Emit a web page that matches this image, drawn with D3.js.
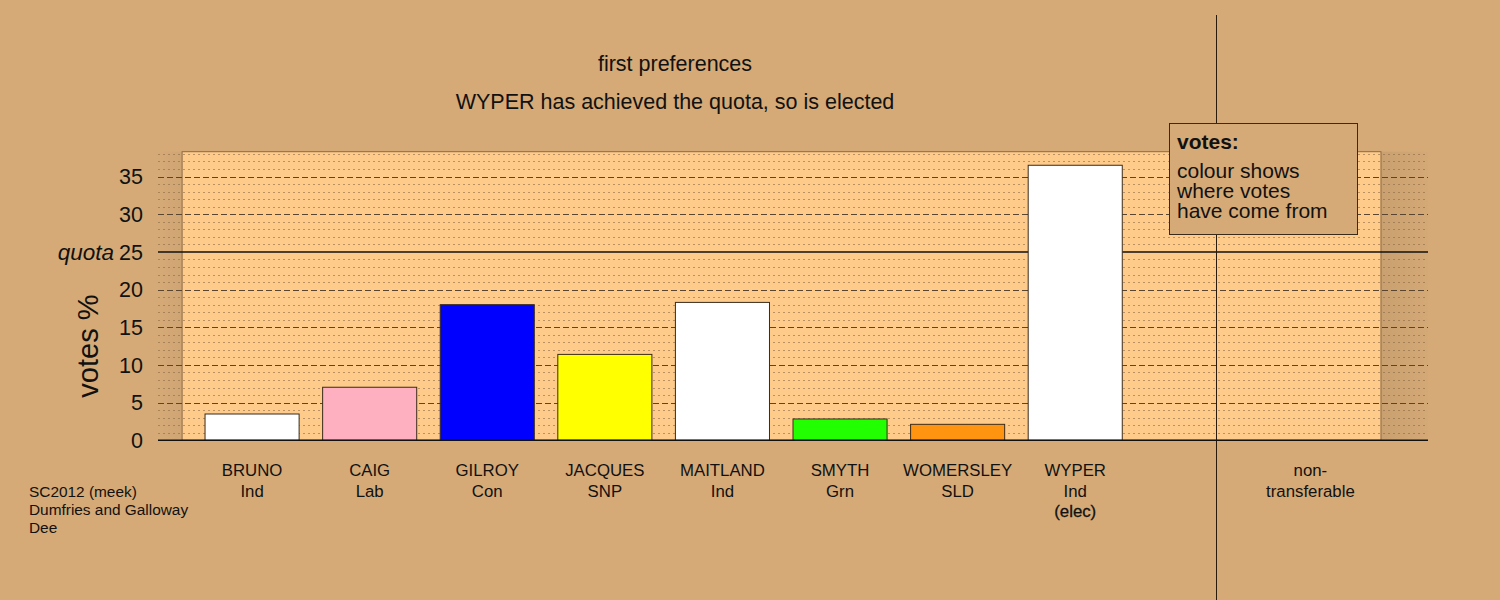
<!DOCTYPE html>
<html><head><meta charset="utf-8">
<script src="https://cdn.jsdelivr.net/npm/d3@7"></script>
<style>
html,body{margin:0;padding:0;background:#D5AA77;}
svg{display:block;font-family:"Liberation Sans",Arial,sans-serif;}
</style></head>
<body>
<script>
// ---- data ----
const candidates = ["BRUNO","CAIG","GILROY","JACQUES","MAITLAND","SMYTH","WOMERSLEY","WYPER"];
const parties = ["Ind","Lab","Con","SNP","Ind","Grn","SLD","Ind"];
const votes = [3.49, 7.04, 18.0, 11.4, 18.3, 2.83, 2.12, 36.5];
const barColors = ["#FFFFFF","#FFB0C0","#0000FF","#FFFF00","#FFFFFF","#22FF00","#FF9410","#FFFFFF"];
const status = ["","","","","","","","(elec)"];
const nonTransferable = 0;
const quota = 25;
const yTicks = [0,5,10,15,20,25,30,35];
const titleLines = ["first preferences","WYPER has achieved the quota, so is elected"];
const footLines = ["SC2012 (meek)","Dumfries and Galloway","Dee"];
const legendTitle = "votes:";
const legendLines = ["colour shows","where votes","have come from"];

const W = 1500, H = 600;
const svg = d3.select("body").append("svg").attr("width", W).attr("height", H);
const BG = "#D5AA77", PANEL = "#FFCB8A";

// scales (category index units)
const x = d3.scaleLinear().domain([-0.8, 10.0]).range([158, 1428]);
const y = d3.scaleLinear().domain([0, 38.3]).range([440.3, 151.7]);
const ntIndex = 9, dividerPos = 8.2, panelL = -0.595, panelR = 9.6, barW = 0.8;

svg.append("rect").attr("width", W).attr("height", H).attr("fill", BG);

// subtle shadow right of panel
const defs = svg.append("defs");
const g1 = defs.append("linearGradient").attr("id","shR");
g1.append("stop").attr("offset","0").attr("stop-color","#8a6a48").attr("stop-opacity",0.16);
g1.append("stop").attr("offset","1").attr("stop-color","#8a6a48").attr("stop-opacity",0.02);
svg.append("rect").attr("x", x(panelR)).attr("y", y(38.3)).attr("width", x(10.0)-x(panelR))
  .attr("height", y(0)-y(38.3)).attr("fill","url(#shR)");
const g2 = defs.append("linearGradient").attr("id","shL").attr("x1","1").attr("x2","0");
g2.append("stop").attr("offset","0").attr("stop-color","#8a6a48").attr("stop-opacity",0.08);
g2.append("stop").attr("offset","1").attr("stop-color","#8a6a48").attr("stop-opacity",0);
svg.append("rect").attr("x", x(-0.8)).attr("y", y(38.3)).attr("width", x(panelL)-x(-0.8))
  .attr("height", y(0)-y(38.3)).attr("fill","url(#shL)");

// panel
svg.append("rect").attr("x", x(panelL)).attr("y", y(38.3))
  .attr("width", x(panelR)-x(panelL)).attr("height", y(0)-y(38.3))
  .attr("fill", PANEL).attr("stroke","#8a6a48").attr("stroke-width",1);

// grid lines
const minor = d3.range(1, 39).filter(v => v % 5 !== 0);
svg.append("g").selectAll("line").data(minor).join("line")
  .attr("x1", x(-0.8)).attr("x2", x(10.0))
  .attr("y1", d => Math.round(y(d))+0.5).attr("y2", d => Math.round(y(d))+0.5)
  .attr("stroke","#8a6a48").attr("stroke-opacity",0.6).attr("stroke-width",1)
  .attr("stroke-dasharray","2,3");
const major = yTicks.filter(v => v !== 0 && v !== quota);
svg.append("g").selectAll("line").data(major).join("line")
  .attr("x1", x(-0.8)).attr("x2", x(10.0))
  .attr("y1", d => Math.round(y(d))+0.5).attr("y2", d => Math.round(y(d))+0.5)
  .attr("stroke","#5a4530").attr("stroke-width",1)
  .attr("stroke-dasharray","6,3");

// quota line (behind bars)
svg.append("line").attr("x1", x(-0.8)).attr("x2", x(10.0))
  .attr("y1", y(quota)).attr("y2", y(quota)).attr("stroke","#111").attr("stroke-width",1.5);

// divider vertical line
svg.append("line").attr("x1", Math.round(x(dividerPos))+0.5).attr("x2", Math.round(x(dividerPos))+0.5)
  .attr("y1", 15).attr("y2", H).attr("stroke","#2a1a0a").attr("stroke-width",1);

// bars
const data = candidates.map((c,i) => ({i, c, v: votes[i], col: barColors[i]}));
svg.append("g").selectAll("rect").data(data).join("rect")
  .attr("x", d => x(d.i - barW/2)).attr("width", x(barW) - x(0))
  .attr("y", d => y(d.v)).attr("height", d => y(0) - y(d.v))
  .attr("fill", d => d.col).attr("stroke","#3a2a1a").attr("stroke-width",1);

// zero line
svg.append("line").attr("x1", x(-0.8)).attr("x2", x(10.0))
  .attr("y1", y(0)).attr("y2", y(0)).attr("stroke","#111").attr("stroke-width",1.5);

// y tick labels
svg.append("g").selectAll("text").data(yTicks).join("text")
  .attr("x", 143).attr("y", d => y(d)).attr("dy","0.36em")
  .attr("text-anchor","end").attr("font-size",21.5).attr("fill","#111").text(d => d);
svg.append("text").attr("x", 114).attr("y", y(quota)).attr("dy","0.36em")
  .attr("text-anchor","end").attr("font-size",22.5).attr("font-style","italic").attr("fill","#111").text("quota");
svg.append("text").attr("transform", `translate(98,${y(12.5)}) rotate(-90)`)
  .attr("text-anchor","middle").attr("font-size",29).attr("fill","#111").text("votes %");

// titles
svg.append("g").selectAll("text").data(titleLines).join("text")
  .attr("x", 675).attr("y", (d,i) => 71 + i*37.5).attr("text-anchor","middle")
  .attr("font-size",21.5).attr("fill","#111").text(d => d);

// category labels
const labG = svg.append("g").attr("font-size",16.8).attr("fill","#111").attr("text-anchor","middle");
data.forEach(d => {
  labG.append("text").attr("x", x(d.i)).attr("y", 476).text(d.c);
  labG.append("text").attr("x", x(d.i)).attr("y", 496.5).text(parties[d.i]);
  if (status[d.i]) labG.append("text").attr("x", x(d.i)).attr("y", 517).attr("stroke","#111").attr("stroke-width",0.3).text(status[d.i]);
});
labG.append("text").attr("x", x(ntIndex)).attr("y", 476).text("non-");
labG.append("text").attr("x", x(ntIndex)).attr("y", 496.5).text("transferable");

// footer
svg.append("g").selectAll("text").data(footLines).join("text")
  .attr("x", 29).attr("y", (d,i) => 497.3 + i*17.7).attr("font-size",15.4).attr("fill","#111").text(d => d);

// legend box
svg.append("rect").attr("x", 1169.5).attr("y", 123.5).attr("width", 188).attr("height", 111)
  .attr("fill", BG).attr("stroke","#3a2a1a").attr("stroke-width",1);
svg.append("text").attr("x", 1177).attr("y", 148.5).attr("font-size",21).attr("font-weight","bold")
  .attr("fill","#111").text(legendTitle);
svg.append("g").selectAll("text").data(legendLines).join("text")
  .attr("x", 1177).attr("y", (d,i) => 178.3 + i*20).attr("font-size",21).attr("fill","#111").text(d => d);
</script>
</body></html>
